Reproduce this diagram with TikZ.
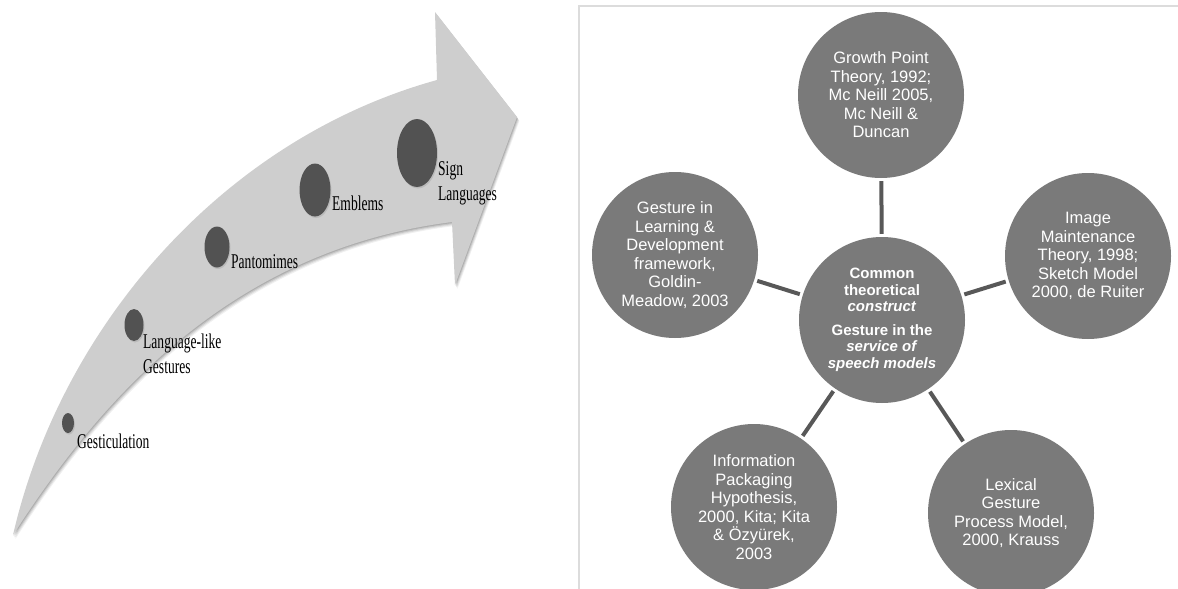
\documentclass[tikz,border=0pt]{standalone}
\usepackage{fontspec}
\setmainfont{Liberation Serif}
\newfontfamily\circfont{Liberation Sans}
\usepackage{graphicx}
\usetikzlibrary{shapes.geometric,shadows}
\definecolor{arrowgray}{RGB}{206,206,206}
\definecolor{dotgray}{RGB}{82,82,82}
\definecolor{circgray}{RGB}{122,122,122}
\definecolor{linkgray}{RGB}{88,88,88}
\definecolor{framegray}{RGB}{220,220,220}
\newcommand{\narrowtxt}[1]{\scalebox{0.645}[1]{#1}}
\begin{document}
\begin{tikzpicture}[x=1pt,y=-1pt,
  stagelbl/.style={anchor=base west, inner sep=0pt, font=\fontsize{21}{25}\selectfont},
  stagedot/.style={ellipse, fill=dotgray, inner sep=0pt,
    drop shadow={shadow xshift=1pt, shadow yshift=-1.5pt, opacity=.25}},
  theory/.style={circle, fill=circgray, text=white, minimum size=166pt, inner sep=0pt,
    align=center, font=\circfont\fontsize{16.5}{18.5}\selectfont},
  hub/.style={theory, font=\circfont\bfseries\fontsize{15}{16.5}\selectfont},
  link/.style={draw=linkgray, line width=4pt, shorten >=3pt, shorten <=3pt}]
\useasboundingbox (0,0) rectangle (1178,589);

% ---- curved progression arrow ----
\def\arrowpath{(13,535) .. controls (60,330) and (220,140) .. (437,80)
  -- (435,12) -- (517,117) -- (455,285) -- (452,222)
  .. controls (230,250) and (100,400) .. (13,535) -- cycle}
\foreach \s/\o in {4/0.06,3/0.08,2/0.10,1/0.12}
  \fill[black,opacity=\o,shift={(\s*0.6,\s)}] \arrowpath;
\fill[arrowgray] \arrowpath;

% ---- stages along the arrow ----
\node[stagedot, minimum width=12pt, minimum height=20pt] (d1) at (68,423) {};
\node[stagedot, minimum width=19pt, minimum height=32pt] (d2) at (134,325) {};
\node[stagedot, minimum width=25pt, minimum height=41pt] (d3) at (217,247) {};
\node[stagedot, minimum width=31pt, minimum height=53pt] (d4) at (315,190) {};
\node[stagedot, minimum width=40pt, minimum height=68pt] (d5) at (417,153) {};

\node[stagelbl] (l1) at (77,448) {\narrowtxt{Gesticulation}};
\node[stagelbl] (l2a) at (143,348) {\narrowtxt{Language-like}};
\node[stagelbl] (l2b) at (143,373) {\narrowtxt{Gestures}};
\node[stagelbl] (l3) at (231,268) {\narrowtxt{Pantomimes}};
\node[stagelbl] (l4) at (332,210) {\narrowtxt{Emblems}};
\node[stagelbl] (l5a) at (438,175) {\narrowtxt{Sign}};
\node[stagelbl] (l5b) at (438,200) {\narrowtxt{Languages}};

% ---- framed panel of gesture models ----
\draw[framegray, line width=2pt] (1190,600) |- (579,6) -- (579,600);

\node[hub] (hub) at (882,320)
  {Common\\theoretical\\\textit{construct}\\[7pt]Gesture in the\\\textit{service of}\\\textit{speech models}};
\node[theory] (gp) at (881,95)
  {Growth Point\\Theory, 1992;\\Mc Neill 2005,\\Mc Neill \&\\Duncan};
\node[theory] (im) at (1088,256)
  {Image\\Maintenance\\Theory, 1998;\\Sketch Model\\2000, de Ruiter};
\node[theory] (lg) at (1011,513)
  {Lexical\\Gesture\\Process Model,\\2000, Krauss};
\node[theory] (ip) at (754,507)
  {Information\\Packaging\\Hypothesis,\\2000, Kita; Kita\\\& Özyürek,\\2003};
\node[theory] (gl) at (675,255)
  {Gesture in\\Learning \&\\Development\\framework,\\Goldin-\\Meadow, 2003};

\foreach \t in {gp,im,lg,ip,gl}
  \draw[link] (hub) -- (\t);
\end{tikzpicture}
\end{document}
